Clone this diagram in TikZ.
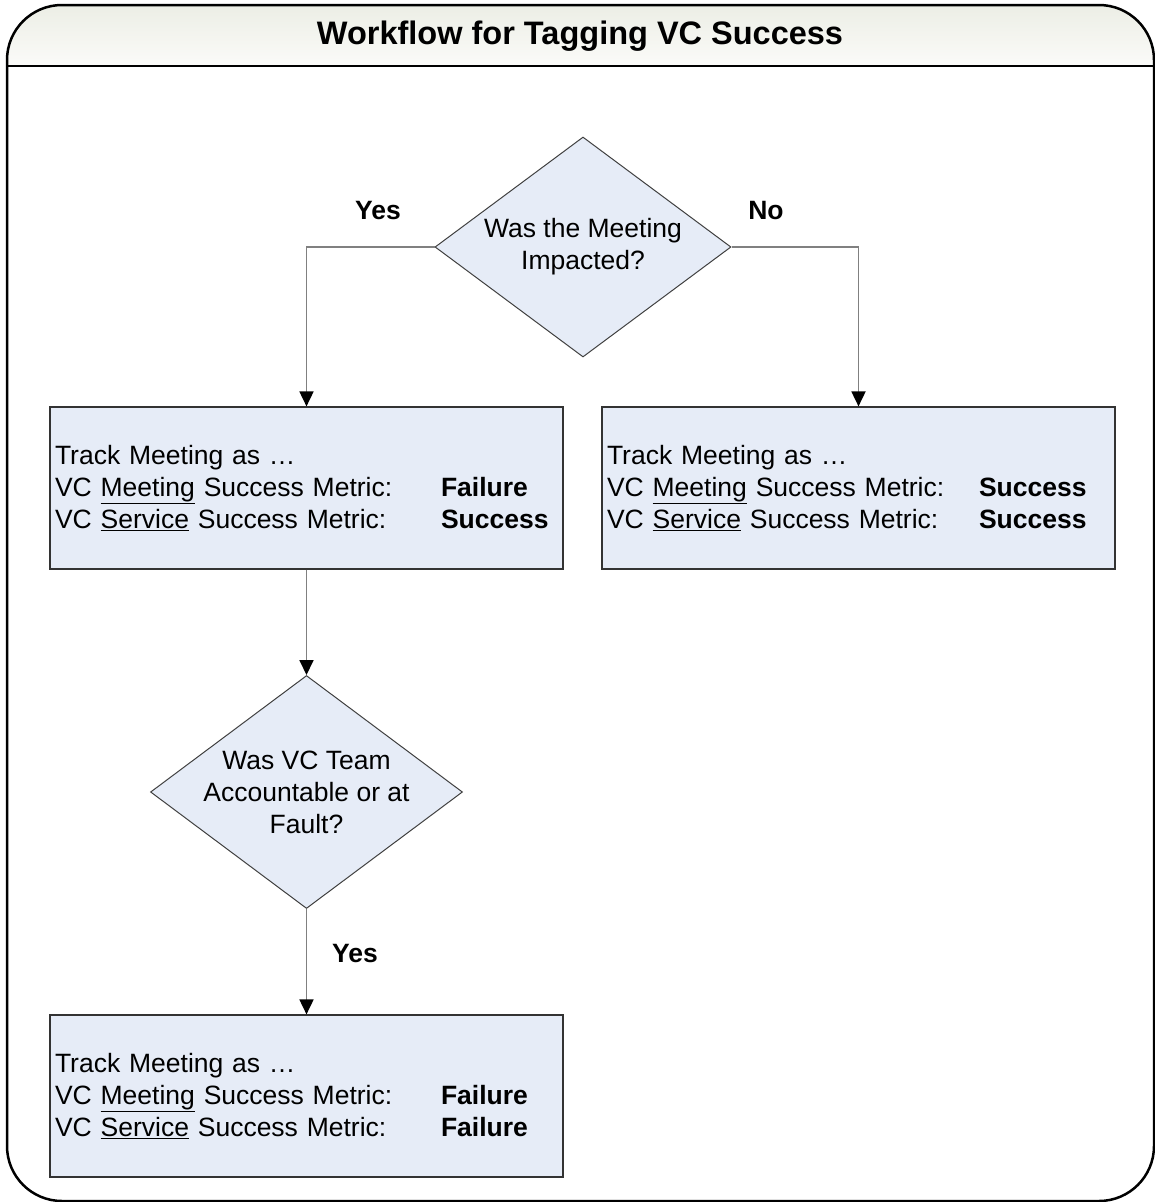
\documentclass[tikz,border=0pt]{standalone}
\usepackage{fontspec}
\setmainfont{Liberation Sans}
\usetikzlibrary{shapes.geometric,arrows.meta}
\definecolor{boxfill}{RGB}{230,236,247}
\definecolor{tbtop}{RGB}{236,238,229}
\definecolor{tbbot}{RGB}{251,251,249}
\definecolor{linegray}{RGB}{128,128,128}
\begin{document}
\begin{tikzpicture}[x=1pt,y=-1pt,
  every node/.style={font=\fontsize{26.5}{32}\selectfont},
  infobox/.style={draw=black!80, line width=1.2pt, fill=boxfill, rectangle,
    minimum width=513pt, minimum height=162pt, text width=503pt,
    inner xsep=5pt, inner ysep=0pt, align=left},
  decision/.style={diamond, draw=black!75, line width=1pt, fill=boxfill,
    inner sep=-25pt, align=center},
  conn/.style={draw=linegray, line width=1.8pt,
    -{Triangle[length=15pt,width=14pt,color=black]}},
  lbl/.style={font=\fontsize{26.5}{32}\selectfont\bfseries}]
\useasboundingbox (0,0) rectangle (1154,1202);
% frame and title bar
\begin{scope}
  \clip[rounded corners=55pt] (7,5) rectangle (1154,1201);
  \shade[top color=tbtop, bottom color=tbbot] (7,5) rectangle (1154,66);
\end{scope}
\draw[line width=2.5pt] (7,66) -- (1154,66);
\draw[line width=2.5pt, rounded corners=55pt] (7,5) rectangle (1154,1201);
\node[font=\fontsize{32.5}{38}\selectfont\bfseries] (title) at (580,36) {Workflow for Tagging VC Success};
% nodes
\node[decision, minimum width=296pt, minimum height=220pt] (d1) at (583,247) {Was the Meeting\\Impacted?};
\node[infobox] (b1) at (306.5,488) {Track Meeting as …\\
  \makebox[386pt][l]{VC \underline{Meeting} Success Metric:}\textbf{Failure}\\
  \makebox[386pt][l]{VC \underline{Service} Success Metric:}\textbf{Success}};
\node[infobox] (b2) at (858.5,488) {Track Meeting as …\\
  \makebox[372pt][l]{VC \underline{Meeting} Success Metric:}\textbf{Success}\\
  \makebox[372pt][l]{VC \underline{Service} Success Metric:}\textbf{Success}};
\node[decision, minimum width=312pt, minimum height=233pt] (d2) at (306.5,792) {Was VC Team\\Accountable or at\\Fault?};
\node[infobox] (b3) at (306.5,1096) {Track Meeting as …\\
  \makebox[386pt][l]{VC \underline{Meeting} Success Metric:}\textbf{Failure}\\
  \makebox[386pt][l]{VC \underline{Service} Success Metric:}\textbf{Failure}};
% connectors
\draw[conn] (d1.west) -| (b1.north);
\draw[conn] (d1.east) -| (b2.north);
\draw[conn] (b1.south) -- (d2.north);
\draw[conn] (d2.south) -- (b3.north);
% labels
\node[lbl] (yes1) at (378,211) {Yes};
\node[lbl] (no1) at (766,211) {No};
\node[lbl] (yes2) at (355,954) {Yes};
\end{tikzpicture}
\end{document}
